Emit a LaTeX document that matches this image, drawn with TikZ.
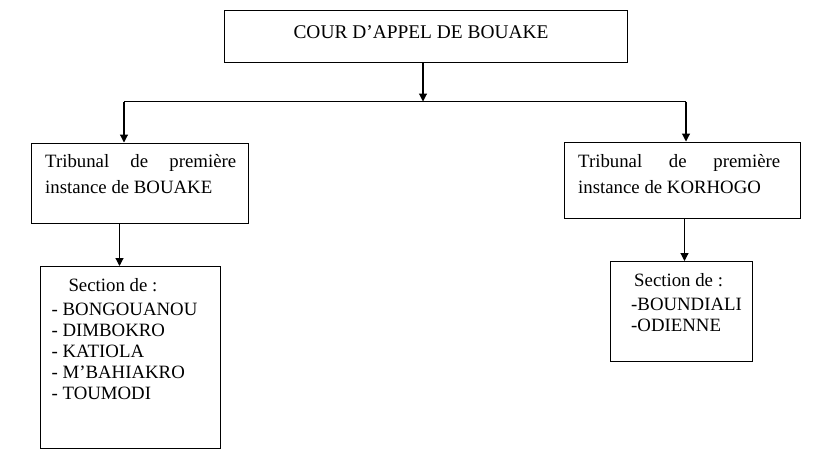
\documentclass[tikz,border=0pt]{standalone}
\usepackage{fontspec}
\setmainfont{Liberation Serif}
\usetikzlibrary{arrows.meta}
\tikzset{
  box/.style={draw=black, line width=1pt, fill=none, inner sep=0pt, rectangle},
  txt/.style={anchor=base west, inner sep=0pt, font=\fontsize{18.8}{22}\selectfont},
  arr/.style={draw=black, line width=1.1pt, -{Triangle[length=8pt,width=8pt]}},
  link/.style={draw=black, line width=1.1pt}
}
\begin{document}
\begin{tikzpicture}[x=1pt,y=-1pt]
\useasboundingbox[fill=white] (0,0) rectangle (819,467);
% boxes
\node[box, minimum width=403pt, minimum height=52pt] (cour) at (425.5,36) {};
\node[box, minimum width=217pt, minimum height=80pt] (tpi1) at (139.5,183) {};
\node[box, minimum width=236pt, minimum height=76pt] (tpi2) at (682,180) {};
\node[box, minimum width=180pt, minimum height=181.5pt] (sec1) at (130,357.25) {};
\node[box, minimum width=142pt, minimum height=99.5pt] (sec2) at (681,311.25) {};
% texts
\node[txt, anchor=base, font=\fontsize{19.4}{22}\selectfont] (tcour) at (421,38) {COUR D’APPEL DE BOUAKE};
\node[txt] (t1a) at (45,167.5) {\makebox[191pt][s]{Tribunal de première}};
\node[txt] (t1b) at (45,193.3) {instance de BOUAKE};
\node[txt] (t2a) at (578,167) {\makebox[202pt][s]{Tribunal de première}};
\node[txt] (t2b) at (578,193) {instance de KORHOGO};
\node[txt] (s1h) at (68.3,291.3) {Section de :};
\node[txt] (s1a) at (51.5,315.3) {- BONGOUANOU};
\node[txt] (s1b) at (51.5,336) {- DIMBOKRO};
\node[txt] (s1c) at (51.5,357) {- KATIOLA};
\node[txt] (s1d) at (51.5,378.7) {- M’BAHIAKRO};
\node[txt] (s1e) at (51.5,399.3) {- TOUMODI};
\node[txt] (s2h) at (634,286.7) {Section de :};
\node[txt] (s2a) at (631,310) {-BOUNDIALI};
\node[txt] (s2b) at (631,331) {-ODIENNE};
% connectors
\coordinate (j) at (423,101.5);
\coordinate (hl) at (124,101.5);
\coordinate (hr) at (686,101.5);
\coordinate (c1) at (119.5,0);
\coordinate (c2) at (684.5,0);
\draw[arr] (cour.south -| j) -- (j);
\draw[link] (hl) -- (hr);
\draw[arr] (hl) -- (hl |- tpi1.north);
\draw[arr] (hr) -- (hr |- tpi2.north);
\draw[arr] (tpi1.south -| c1) -- (sec1.north -| c1);
\draw[arr] (tpi2.south -| c2) -- (sec2.north -| c2);
\end{tikzpicture}
\end{document}
